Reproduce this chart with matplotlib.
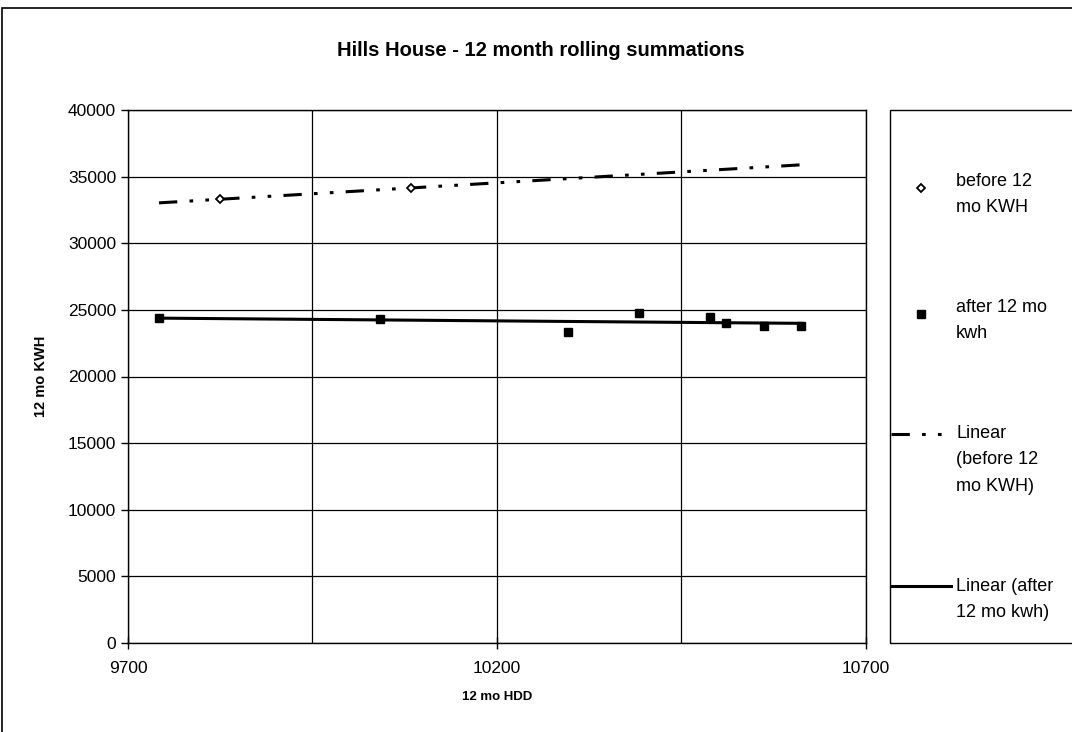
import matplotlib.pyplot as plt
import matplotlib.patches as patches
from matplotlib.legend_handler import HandlerLine2D
import numpy as np

plt.rcParams['font.family'] = ['Liberation Sans', 'DejaVu Sans']

# data
before_hdd = [9824, 10083]
before_kwh = [33300, 34150]

after_hdd = [9742, 10041, 10296, 10393, 10488, 10510, 10562, 10612]
after_kwh = [24410, 24290, 23360, 24790, 24490, 23990, 23790, 23810]

x_ticks = [9700, 10200, 10700]
x_grid = [9950, 10450]
y_ticks = list(range(0, 40001, 5000))

W, H = 1072, 732
fig = plt.figure(figsize=(W / 100, H / 100), dpi=100)

def fx(px):
    return px / W

def fy(py):
    return 1 - py / H


class TopHandler(HandlerLine2D):
    # lift the legend handle up to the first line of a multi-line label
    def __init__(self, shift, **kw):
        super().__init__(**kw)
        self.shift = shift

    def create_artists(self, legend, orig_handle, xdescent, ydescent,
                       width, height, fontsize, trans):
        return super().create_artists(legend, orig_handle, xdescent,
                                      ydescent - 2 * self.shift, width,
                                      height, fontsize, trans)


ax = fig.add_axes([fx(128), fy(643), fx(866) - fx(128), fy(110) - fy(643)])

# trend lines over the range of the after series
xs = np.array([min(after_hdd), max(after_hdd)])
pb = np.polyfit(before_hdd, before_kwh, 1)
pa = np.polyfit(after_hdd, after_kwh, 1)

h1, = ax.plot(before_hdd, before_kwh, linestyle='none', marker='D', markersize=4.5,
              markerfacecolor='white', markeredgecolor='black', markeredgewidth=1.3,
              label='before 12\nmo KWH', zorder=4)
h2, = ax.plot(after_hdd, after_kwh, linestyle='none', marker='s', markersize=6,
              color='black', label='after 12 mo\nkwh', zorder=4)
h3, = ax.plot(xs, np.polyval(pb, xs), color='black', linewidth=2.2,
              dashes=(6, 4, 1.2, 4, 1.2, 4), label='Linear\n(before 12\nmo KWH)', zorder=3)
h4, = ax.plot(xs, np.polyval(pa, xs), color='black', linewidth=2.2,
              label='Linear (after\n12 mo kwh)', zorder=3)

ax.set_xlim(9700, 10700)
ax.set_ylim(0, 40000)
ax.set_xticks(x_ticks)
ax.set_xticks(x_grid, minor=True)
ax.set_yticks(y_ticks)
ax.tick_params(axis='both', which='major', labelsize=12.5, direction='out', length=5, width=1, colors='black')
ax.tick_params(axis='x', which='major', direction='inout', length=8)
ax.tick_params(axis='x', which='minor', length=0)
ax.tick_params(axis='x', pad=9)
ax.grid(True, which='both', color='black', linewidth=0.9)
for s in ax.spines.values():
    s.set_color('black')
    s.set_linewidth(1)

ax.set_xlabel('12 mo HDD', fontsize=9.5, fontweight='bold')
ax.set_ylabel('12 mo KWH', fontsize=10.5, fontweight='bold')
ax.xaxis.set_label_coords(0.5, (643 - 691) / 533)
ax.yaxis.set_label_coords((48 - 128) / 738, 0.5)

fig.text(fx(541), fy(50), 'Hills House - 12 month rolling summations',
         ha='center', va='center', fontsize=14.5, fontweight='bold')

# legend box
fig.patches.append(patches.Rectangle((fx(890), fy(643)), 0.5, fy(110) - fy(643),
                                     transform=fig.transFigure, fill=False,
                                     edgecolor='black', linewidth=1))
leg = fig.legend(handles=[h1, h2, h3, h4],
                 handler_map={h1: TopHandler(5), h2: TopHandler(5),
                              h3: TopHandler(19), h4: TopHandler(9.5)},
                 loc='upper left', bbox_to_anchor=(fx(891), fy(173)),
                 frameon=False, fontsize=13, labelspacing=4.6,
                 handlelength=3.3, handletextpad=0.3, borderpad=0, borderaxespad=0)
for t in leg.get_texts():
    t.set_linespacing(1.7)

# outer chart border
fig.patches.append(patches.Rectangle((fx(2), -0.1), 1.2, fy(8) + 0.1,
                                     transform=fig.transFigure, fill=False,
                                     edgecolor='black', linewidth=1.2))

fig.savefig('out.png', dpi=100)
